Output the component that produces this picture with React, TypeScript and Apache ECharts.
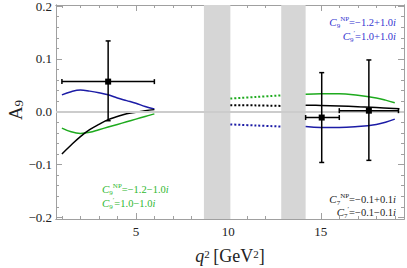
import React, { useEffect, useRef } from "react";
import * as echarts from "echarts";

// ---- data ----
const q2Low = [1, 1.5, 2, 2.5, 3, 3.5, 4, 4.5, 5, 5.5, 6];
const blueLow = [0.032, 0.038, 0.041, 0.039, 0.036, 0.032, 0.026, 0.021, 0.016, 0.01, 0.005];
const blackLow = [-0.08, -0.063, -0.047, -0.034, -0.024, -0.015, -0.009, -0.004, -0.001, 0.002, 0.004];
const greenLow = [-0.031, -0.038, -0.041, -0.039, -0.034, -0.029, -0.024, -0.019, -0.014, -0.009, -0.004];

const q2Mid = [10.11, 11.5, 12.86];
const blueMid = [-0.024, -0.026, -0.028];
const blackMid = [0.0125, 0.012, 0.011];
const greenMid = [0.025, 0.028, 0.031];

const q2High = [14.18, 15, 16, 17, 18, 18.5, 19];
const blueHigh = [-0.028, -0.030, -0.030, -0.028, -0.024, -0.020, -0.014];
const greenHigh = [0.033, 0.034, 0.034, 0.031, 0.026, 0.022, 0.017];
const q2HighBlack = [14.18, 15, 16, 17, 18, 19.25];
const blackHigh = [0.0125, 0.012, 0.011, 0.0095, 0.008, 0.0055];

// binned measurements
const binCenters = [3.5, 15.05, 17.6];
const binValues = [0.057, -0.011, 0.002];
const binLo = [1, 14.18, 16];
const binHi = [6, 16, 19.2];
const errDown = [0.074, 0.085, 0.094];
const errUp = [0.077, 0.085, 0.096];

const vetoBands = [
  [8.68, 10.11],
  [12.86, 14.18],
];

const xMajor = [5, 10, 15];
const xMinor = [1, 2, 3, 4, 6, 7, 8, 9, 11, 12, 13, 14, 16, 17, 18, 19];
const yMajor = [-0.2, -0.1, 0, 0.1, 0.2];
const yMinor = [-0.18, -0.16, -0.14, -0.12, -0.08, -0.06, -0.04, -0.02, 0.02, 0.04, 0.06, 0.08, 0.12, 0.14, 0.16, 0.18];

const X_MIN = 0.68;
const X_MAX = 19.5;
const Y_MIN = -0.203;
const Y_MAX = 0.202;

const SERIF = "'Liberation Serif', 'DejaVu Serif', serif";
const BLUE = "#1c1ca6";
const GREEN = "#1eaa1e";
const BLACK = "#000000";
const BLUE_TXT = "#3535d0";
const GREEN_TXT = "#2fb82f";
const FRAME = "#a0a0a0";

const zip = (xs: number[], ys: number[]) => xs.map((x, i) => [x, ys[i]]);

function mkX(pos: string, values: number[], len: number, labels: boolean) {
  return {
    type: "value",
    position: pos,
    min: X_MIN,
    max: X_MAX,
    axisLine: { show: true, onZero: false, lineStyle: { color: FRAME, width: 1 } },
    axisTick: { show: true, inside: true, length: len, customValues: values, lineStyle: { color: FRAME, width: 1 } },
    axisLabel: labels
      ? { show: true, customValues: values, margin: 6, color: "#222", fontFamily: SERIF, fontSize: 13 }
      : { show: false },
    splitLine: { show: false },
  };
}

function mkY(pos: string, values: number[], len: number, labels: boolean) {
  return {
    type: "value",
    position: pos,
    min: Y_MIN,
    max: Y_MAX,
    axisLine: { show: true, onZero: false, lineStyle: { color: FRAME, width: 1 } },
    axisTick: { show: true, inside: true, length: len, customValues: values, lineStyle: { color: FRAME, width: 1 } },
    axisLabel: labels
      ? {
          show: true,
          customValues: values,
          margin: 4,
          color: "#222",
          fontFamily: SERIF,
          fontSize: 13,
          formatter: (v: number) => (v < -1e-9 ? "\u2212" : "") + Math.abs(v).toFixed(1),
        }
      : { show: false },
    splitLine: { show: false },
  };
}

function legendRich(color: string) {
  return {
    C: { fontFamily: SERIF, fontStyle: "italic", fontSize: 11, fill: color, lineHeight: 14 },
    sb: { fontFamily: SERIF, fontSize: 7, fill: color, verticalAlign: "bottom", lineHeight: 7 },
    sp: { fontFamily: SERIF, fontSize: 7, fill: color, verticalAlign: "top", lineHeight: 7 },
    t: { fontFamily: SERIF, fontSize: 10.5, fill: color, lineHeight: 14 },
    i: { fontFamily: SERIF, fontStyle: "italic", fontSize: 10.5, fill: color, lineHeight: 14 },
  };
}

function legendText(idx: string, top: string, rest: string) {
  return `{C|C}{sb|${idx}}{sp|${top}}{t|${rest}}{i|i}`;
}

function lineSeries(data: number[][], color: string, dotted = false) {
  return {
    type: "line",
    data,
    smooth: 0.4,
    showSymbol: false,
    symbol: "none",
    silent: true,
    z: 3,
    lineStyle: { color, width: dotted ? 2 : 1.5, type: dotted ? [2, 2] : "solid" },
  };
}

export default function App() {
  const ref = useRef<HTMLDivElement>(null);
  useEffect(() => {
    if (!ref.current) return;
    const chart = echarts.init(ref.current, undefined, { renderer: "svg" });
    const binData = binCenters.map((c, i) => [c, binValues[i], binLo[i], binHi[i], binValues[i] - errDown[i], binValues[i] + errUp[i]]);

    const option: any = {
      animation: false,
      grid: { left: 56, right: 3, top: 5, bottom: 49, containLabel: false, outerBoundsMode: "none" },
      xAxis: [
        {
          ...mkX("bottom", xMajor, 6, true),
          name: "{q|q}{s|2} {t|[GeV}{s|2}{t|]}",
          nameLocation: "middle",
          nameGap: 29,
          nameTextStyle: {
            rich: {
              q: { fontFamily: SERIF, fontStyle: "italic", fontSize: 18, color: "#222", lineHeight: 16 },
              s: { fontFamily: SERIF, fontSize: 11, color: "#222", verticalAlign: "top", lineHeight: 10 },
              t: { fontFamily: SERIF, fontSize: 18, color: "#222", lineHeight: 16 },
            },
          },
        },
        mkX("bottom", xMinor, 3, false),
        mkX("top", xMajor, 6, false),
        mkX("top", xMinor, 3, false),
      ],
      yAxis: [
        mkY("left", yMajor, 6, true),
        mkY("left", yMinor, 3, false),
        mkY("right", yMajor, 6, false),
        mkY("right", yMinor, 3, false),
      ],
      series: [
        {
          type: "line",
          data: [],
          silent: true,
          z: 1,
          markArea: {
            silent: true,
            itemStyle: { color: "#d6d6d6" },
            data: vetoBands.map(([a, b]) => [{ xAxis: a }, { xAxis: b }]),
          },
          markLine: {
            silent: true,
            symbol: "none",
            label: { show: false },
            lineStyle: { color: "#cccccc", width: 2, type: "solid" },
            data: [{ yAxis: 0 }],
          },
        },
        lineSeries(zip(q2Low, blueLow), BLUE),
        lineSeries(zip(q2Low, greenLow), GREEN),
        lineSeries(zip(q2Low, blackLow), BLACK),
        lineSeries(zip(q2Mid, greenMid), GREEN, true),
        lineSeries(zip(q2Mid, blackMid), BLACK, true),
        lineSeries(zip(q2Mid, blueMid), BLUE, true),
        lineSeries(zip(q2High, greenHigh), GREEN),
        lineSeries(zip(q2High, blueHigh), BLUE),
        lineSeries(zip(q2HighBlack, blackHigh), BLACK),
        {
          type: "custom",
          z: 5,
          silent: true,
          data: binData,
          encode: { x: [0, 2, 3], y: [1, 4, 5] },
          renderItem: (params: any, api: any) => {
            const c = api.coord([api.value(0), api.value(1)]);
            const l = api.coord([api.value(2), api.value(1)]);
            const r = api.coord([api.value(3), api.value(1)]);
            const lo = api.coord([api.value(0), api.value(4)]);
            const hi = api.coord([api.value(0), api.value(5)]);
            const st = { stroke: "#000", lineWidth: 1.5 };
            const cap = 2.5;
            const ln = (x1: number, y1: number, x2: number, y2: number) => ({
              type: "line",
              shape: { x1, y1, x2, y2 },
              style: st,
            });
            return {
              type: "group",
              children: [
                ln(l[0], l[1], r[0], r[1]),
                ln(lo[0], lo[1], hi[0], hi[1]),
                ln(l[0], l[1] - cap, l[0], l[1] + cap),
                ln(r[0], r[1] - cap, r[0], r[1] + cap),
                ln(lo[0] - cap, lo[1], lo[0] + cap, lo[1]),
                ln(hi[0] - cap, hi[1], hi[0] + cap, hi[1]),
                { type: "rect", shape: { x: c[0] - 3, y: c[1] - 3, width: 6, height: 6 }, style: { fill: "#000" } },
              ],
            };
          },
        },
      ],
      graphic: [
        {
          type: "text",
          x: 15,
          y: 110,
          rotation: Math.PI / 2,
          style: {
            text: "{a|A}{s|9}",
            rich: {
              a: { fontFamily: SERIF, fontSize: 19, fill: "#222", lineHeight: 20 },
              s: { fontFamily: SERIF, fontSize: 13, fill: "#222", verticalAlign: "bottom", lineHeight: 13 },
            },
            align: "center",
            verticalAlign: "middle",
          },
        },
        {
          type: "text",
          x: 396,
          y: 22,
          style: { text: legendText("9", "NP", "=\u22121.2+1.0"), rich: legendRich(BLUE_TXT), fill: BLUE_TXT, align: "right", verticalAlign: "middle" },
        },
        {
          type: "text",
          x: 396,
          y: 36,
          style: { text: legendText("9", "\u2032", "=1.0+1.0"), rich: legendRich(BLUE_TXT), fill: BLUE_TXT, align: "right", verticalAlign: "middle" },
        },
        {
          type: "text",
          x: 102,
          y: 189,
          style: { text: legendText("9", "NP", "=\u22121.2\u22121.0"), rich: legendRich(GREEN_TXT), fill: GREEN_TXT, align: "left", verticalAlign: "middle" },
        },
        {
          type: "text",
          x: 102,
          y: 203,
          style: { text: legendText("9", "\u2032", "=1.0\u22121.0"), rich: legendRich(GREEN_TXT), fill: GREEN_TXT, align: "left", verticalAlign: "middle" },
        },
        {
          type: "text",
          x: 396,
          y: 199,
          style: { text: legendText("7", "NP", "=\u22120.1+0.1"), rich: legendRich("#222"), fill: "#222", align: "right", verticalAlign: "middle" },
        },
        {
          type: "text",
          x: 396,
          y: 212,
          style: { text: legendText("7", "\u2032", "=\u22120.1\u22120.1"), rich: legendRich("#222"), fill: "#222", align: "right", verticalAlign: "middle" },
        },
      ],
    };
    chart.setOption(option);
    return () => chart.dispose();
  }, []);
  return <div ref={ref} style={{ width: 407, height: 268, position: "absolute", left: 0, top: 0 }} />;
}
